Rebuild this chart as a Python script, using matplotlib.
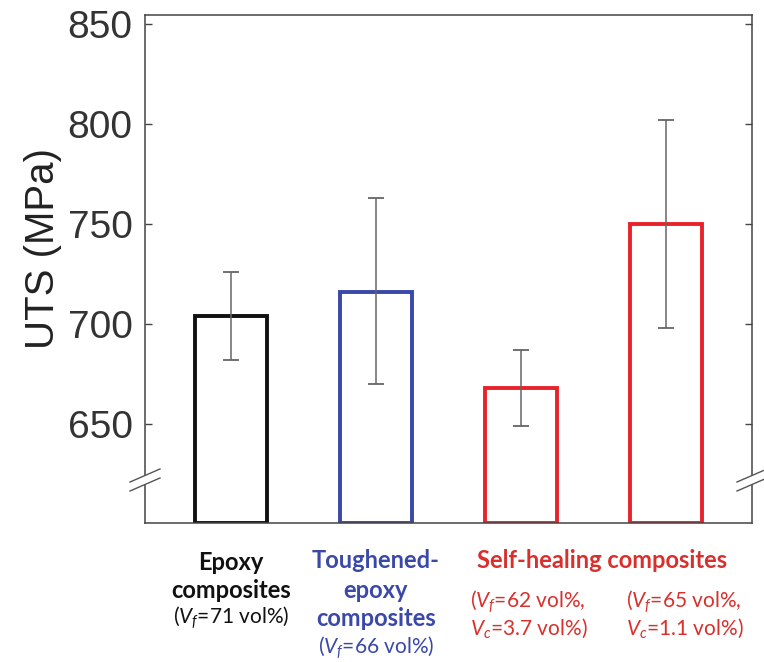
import matplotlib
matplotlib.use("Agg")
import matplotlib.pyplot as plt
import numpy as np

categories = ["Epoxy composites", "Toughened-epoxy composites",
              "Self-healing composites (Vc=3.7)", "Self-healing composites (Vc=1.1)"]
uts = [704, 716, 668, 750]
err_low = [682, 670, 649, 698]
err_high = [726, 763, 687, 802]
yticks = [650, 700, 750, 800, 850]
bar_colors = ["#111111", "#3a48a8", "#e8222a", "#e8222a"]

plt.rcParams['mathtext.fontset'] = 'custom'
plt.rcParams['mathtext.it'] = 'Lato:italic'
plt.rcParams['mathtext.rm'] = 'Lato'

fig = plt.figure(figsize=(7.64, 6.62), dpi=100)
ax = fig.add_axes([145/764, 1-523/662, (752-145)/764, (523-15)/662])

x = np.arange(1, len(uts)+1)
ylo, yhi = 600.5, 854.5
heights = [u - ylo for u in uts]
ax.bar(x, heights, bottom=ylo, width=0.5, facecolor='none',
       edgecolor=bar_colors, linewidth=2.8, zorder=2)
yerr = np.array([[u - l for u, l in zip(uts, err_low)],
                 [h - u for u, h in zip(uts, err_high)]])
ax.errorbar(x, uts, yerr=yerr, fmt='none', ecolor='#666666',
            elinewidth=1.1, capsize=6, capthick=1.3, zorder=3)

ax.set_xlim(0.407, 4.593)
ax.set_ylim(ylo, yhi)
ax.set_xticks([])
ax.set_yticks(yticks)
ax.set_yticklabels([str(t) for t in yticks], fontfamily='Liberation Sans',
                   fontsize=28, color='#333333')
ax.tick_params(axis='y', direction='in', length=5, width=1, color='#444444',
               right=True, pad=9)
for s in ax.spines.values():
    s.set_color('#444444')
    s.set_linewidth(1.1)
ax.set_ylabel("UTS (MPa)", fontfamily='Liberation Sans', fontsize=29,
              color='#222222')
ax.yaxis.set_label_coords(-0.137, 0.54)

# axis break marks
fig.canvas.draw()
def brk(xa, yd):
    px = ax.transAxes.transform((xa, 0))[0]
    py = ax.transData.transform((1, yd))[1]
    dx, dy = 15, 6.5
    g = 4.5
    up = (px - dx, py - dy + g), (px + dx, py + dy + g)
    dn = (px - dx, py - dy - g), (px + dx, py + dy - g)
    inv = fig.transFigure.inverted()
    poly = [inv.transform(p) for p in (up[0], up[1], dn[1], dn[0])]
    fig.patches.append(plt.Polygon(poly, closed=True, facecolor='white',
                                   edgecolor='none', transform=fig.transFigure,
                                   zorder=10))
    for a, b in (up, dn):
        pa, pb = inv.transform(a), inv.transform(b)
        fig.lines.append(plt.Line2D([pa[0], pb[0]], [pa[1], pb[1]],
                                    color='#555555', lw=1.0,
                                    transform=fig.transFigure, zorder=11))
brk(0, 622)
brk(1, 622)

def fy(ypx):
    return 1 - ypx/662
def fx(xpx):
    return xpx/764

bold = dict(fontfamily='Lato', fontweight='bold', fontsize=17, ha='center', va='center')
norm = dict(fontfamily='Lato', fontsize=15, ha='center', va='center')
black = '#111111'
blue = '#3a48a8'
red = '#d8302c'

def xc(i):
    return fx(ax.transData.transform((x[i], 0))[0])

fig.text(xc(0), fy(562), "Epoxy", color=black, **bold)
fig.text(xc(0), fy(590), "composites", color=black, **bold)
fig.text(xc(0), fy(618), r"($V_f$=71 vol%)", color=black, **norm)

fig.text(xc(1), fy(561), "Toughened-", color=blue, **bold)
fig.text(xc(1), fy(590), "epoxy", color=blue, **bold)
fig.text(xc(1), fy(618), "composites", color=blue, **bold)
fig.text(xc(1), fy(648), r"($V_f$=66 vol%)", color=blue, **norm)

fig.text(fx(602), fy(561), "Self-healing composites", color=red, **bold)
fig.text(fx(470), fy(602), r"($V_f$=62 vol%,", color=red,
         **{**norm, 'ha': 'left'})
fig.text(fx(470), fy(628), r"$V_c$=3.7 vol%)", color=red,
         **{**norm, 'ha': 'left'})
fig.text(fx(626), fy(602), r"($V_f$=65 vol%,", color=red,
         **{**norm, 'ha': 'left'})
fig.text(fx(626), fy(628), r"$V_c$=1.1 vol%)", color=red,
         **{**norm, 'ha': 'left'})

fig.savefig("out.png", dpi=100, facecolor='white')
